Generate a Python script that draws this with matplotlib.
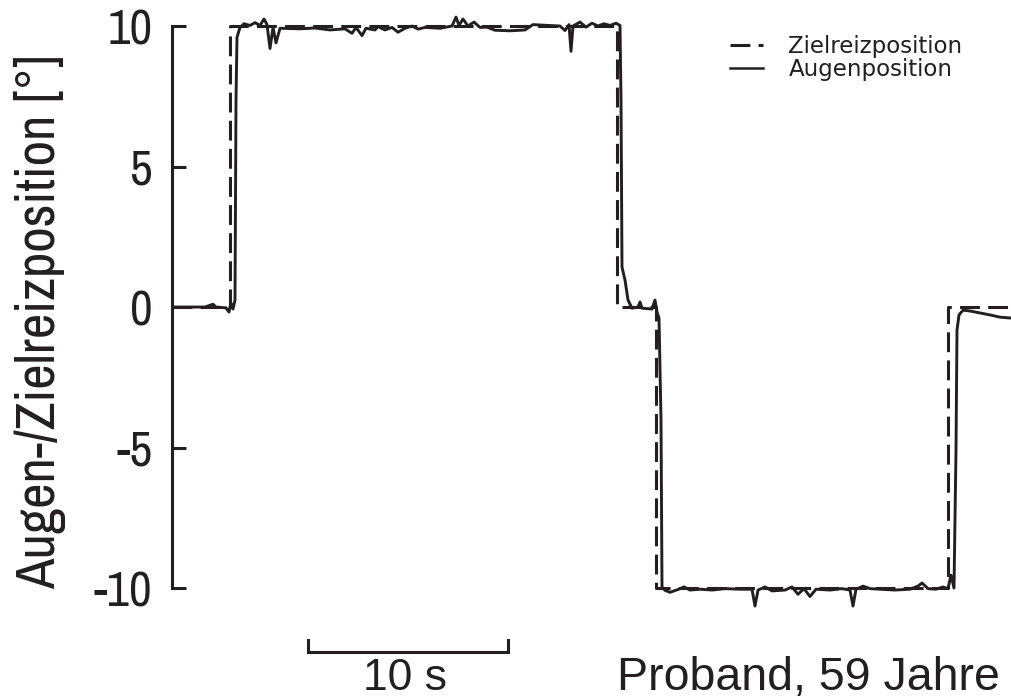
import os
import matplotlib
matplotlib.use('Agg')
import matplotlib.pyplot as plt
from matplotlib import font_manager
from matplotlib.lines import Line2D
import matplotlib.transforms as mtransforms

# Zielreiz (Sekunden, Grad)
target_t = [0, 2.9, 2.9, 22.25, 22.25, 24.2, 24.2, 38.8, 38.8, 41.95]
target_pos = [0, 0, 10, 10, 0, 0, -10, -10, 0, 0]

# Augenposition (Sekunden, Grad)
eye_t = [0, 1.65, 2.05, 2.2, 2.7, 2.85, 2.95, 3.05, 3.15, 3.2, 3.25, 3.4, 3.6, 3.9,
         4.15, 4.4, 4.6, 4.75, 4.9, 5.05, 5.2, 5.4, 6.4, 7.15, 7.9, 8.65, 9.0, 9.2,
         9.5, 9.7, 10.15, 10.3, 10.65, 11.0, 11.3, 11.65, 12.0, 12.3, 12.65, 13.4,
         14.0, 14.2, 14.35, 14.55, 14.8, 15.1, 15.4, 15.75, 16.15, 16.9, 17.65,
         18.05, 18.8, 19.4, 19.65, 19.85, 19.95, 20.05, 20.4, 20.7, 21.0, 21.3,
         21.6, 21.9, 22.2, 22.4, 22.45, 22.5, 22.65, 22.8, 23.0, 23.3, 23.4, 23.5,
         24.0, 24.15, 24.25, 24.35, 24.45, 24.5, 24.65, 24.9, 25.3, 25.6, 25.9,
         26.4, 27.0, 27.65, 28.4, 29.0, 29.15, 29.3, 29.65, 30.0, 30.65, 31.0,
         31.3, 31.6, 31.9, 32.2, 32.9, 33.5, 33.9, 34.05, 34.2, 34.55, 34.9, 35.4,
         36.15, 36.9, 37.3, 37.5, 37.8, 38.2, 38.55, 38.8, 38.95, 39.1, 39.2,
         39.25, 39.35, 39.55, 39.9, 40.4, 40.9, 41.4, 41.9]
eye_pos = [0, 0, 0.1, 0, -0.03, -0.18, 0.14, -0.07, 0.25, 7.37, 9.6, 9.95, 10.08, 10.02,
           10.12, 10.02, 10.25, 10.05, 9.2, 9.95, 9.4, 9.92, 9.9, 9.93, 9.86, 9.9,
           9.74, 9.95, 9.66, 9.92, 9.86, 9.98, 9.86, 9.95, 9.78, 9.92, 10.0, 9.89,
           9.95, 9.92, 10.0, 10.32, 10.02, 10.25, 10.0, 10.14, 9.95, 9.96, 9.85, 9.83,
           9.86, 10.05, 10.02, 10.0, 9.84, 10.05, 9.1, 10.0, 10.14, 9.96, 10.1, 10.0,
           10.08, 10.02, 10.1, 10.02, 7.37, 1.42, 0.96, 0.25, -0.04, 0, 0.18, -0.04,
           -0.07, 0.25, -0.18, -0.39, -4.0, -9.96, -10.08, -10.15, -10.05, -9.96,
           -10.07, -10.04, -10.07, -10.02, -10.04, -10.04, -10.64, -10.07, -9.96,
           -10.1, -10.07, -9.96, -10.22, -10.02, -10.3, -10.04, -10.07, -10.02,
           -10.07, -10.64, -10.04, -9.93, -10.02, -10.04, -10.07, -10.04, -9.93,
           -9.82, -10.02, -10.04, -9.96, -10.02, -9.54, -10.0, -5.09, -0.82, -0.28,
           -0.11, -0.14, -0.21, -0.28, -0.36, -0.39]

yticks = [-10, -5, 0, 5, 10]
legend_labels = ['Zielreizposition', 'Augenposition']
ylabel = 'Augen-/Zielreizposition [°]'
scalebar_start = 6.8
scalebar_len = 10

ink = '#231f20'
plt.rcParams['font.family'] = ['Liberation Sans', 'DejaVu Sans']


def narrow_font():
    best = None
    for f in font_manager.fontManager.ttflist:
        key = (f.name + ' ' + os.path.basename(f.fname)).lower().replace('-', ' ')
        if f.style != 'normal' or f.weight != 400:
            continue
        if 'mono' in key or 'serif' in key or 'cjk' in key:
            continue
        if 'narrow' in key:
            rank = 0
        elif 'semicondensed' in key.replace(' ', ''):
            rank = 3
        elif 'extracondensed' in key.replace(' ', ''):
            rank = 2
        elif 'condensed' in key or f.stretch == 'condensed':
            rank = 1
        else:
            continue
        if best is None or rank < best[0]:
            best = (rank, f.fname)
    if best is None:
        return font_manager.FontProperties(family='DejaVu Sans', stretch='condensed')
    return font_manager.FontProperties(fname=best[1])


fp = narrow_font()

fig = plt.figure(figsize=(10.11, 6.99), dpi=100)
ax = fig.add_axes([172 / 1011, 1 - 610 / 699, 839 / 1011, 600 / 699])
ax.set_xlim(0, 41.95)
ax.set_ylim(-10.78, 10.57)

ax.plot(target_t, target_pos, color=ink, lw=2.2, dashes=(6.5, 2.7), zorder=2)
ax.plot(eye_t, eye_pos, color=ink, lw=2.1, zorder=3)

for s in ['top', 'right', 'bottom']:
    ax.spines[s].set_visible(False)
ax.spines['left'].set_bounds(-10, 10)
ax.spines['left'].set_linewidth(2.2)
ax.spines['left'].set_color(ink)
ax.set_xticks([])
ax.set_yticks(yticks)
ax.set_yticklabels([str(v) for v in yticks])
ax.tick_params(axis='y', direction='in', length=10, width=2.2, pad=14, colors=ink)
for lab in ax.get_yticklabels():
    lab.set_fontproperties(fp)
    lab.set_fontsize(38)

yl = ax.set_ylabel(ylabel, fontproperties=fp, color=ink, va='center')
yl.set_fontsize(40)
ax.yaxis.set_label_coords((40 - 172) / 839, (610 - 322) / 600)

# Schriftgroessen an die Vorlage anpassen
fig.canvas.draw()
r = fig.canvas.get_renderer()
yl.set_fontsize(40 * 535 / yl.get_window_extent(r).height)
w = ax.get_yticklabels()[0].get_window_extent(r).width
tick_size = (38 * 38 * 55 / w) ** 0.5
for lab in ax.get_yticklabels():
    lab.set_fontsize(tick_size)
ax.tick_params(axis='y', labelsize=tick_size)

# Zeitmassstab
trans = mtransforms.blended_transform_factory(ax.transData, ax.transAxes)
x0, x1 = scalebar_start, scalebar_start + scalebar_len
ax.plot([x0, x0, x1, x1], [-0.05, -0.07, -0.07, -0.05], color=ink, lw=2.2,
        transform=trans, clip_on=False, solid_joinstyle='miter')
ax.text((x0 + x1) / 2 - 0.15, -0.1333, '%d s' % scalebar_len, transform=trans,
        ha='center', va='baseline', fontsize=32, color=ink)

fig.text(617 / 1011, 1 - 690 / 699, 'Proband, 59 Jahre', ha='left',
         va='baseline', fontsize=33.5, color=ink)

handles = [Line2D([], [], color=ink, lw=2.2, dashes=(6.5, 2.7)),
           Line2D([], [], color=ink, lw=1.8)]
fig.legend(handles, legend_labels, loc='upper left',
           bbox_to_anchor=(730 / 1011, 1 - 35 / 699), frameon=False,
           prop={'family': 'DejaVu Sans', 'size': 16.5}, handlelength=1.45,
           handletextpad=1.1, labelspacing=0.0,
           borderpad=0, borderaxespad=0, labelcolor=ink)

fig.savefig('out.png', dpi=100)
